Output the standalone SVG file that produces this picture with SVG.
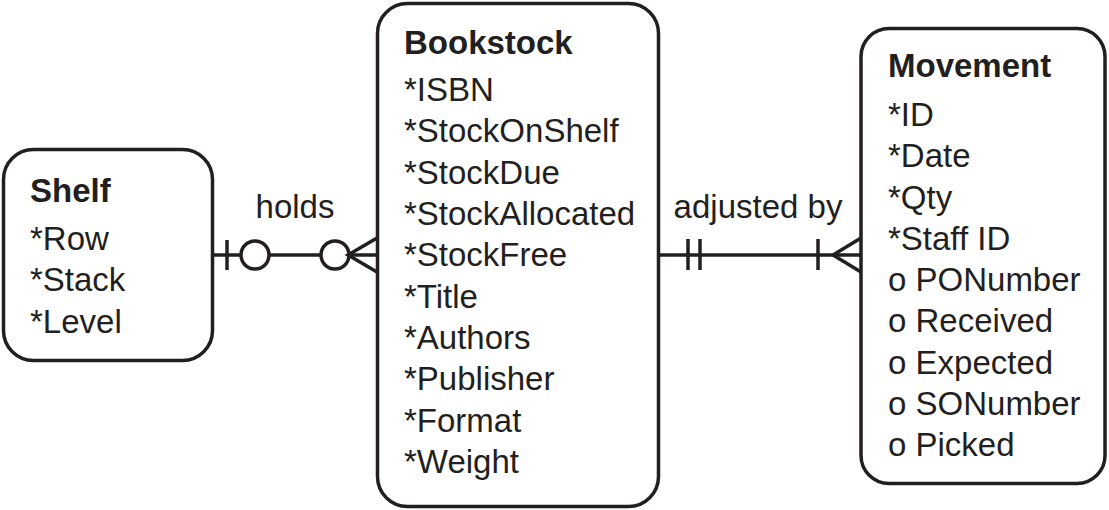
<svg xmlns="http://www.w3.org/2000/svg" width="1109" height="510" viewBox="0 0 1109 510">
<style>
.box{fill:#fff;stroke:#231f20;stroke-width:3.5}
.t{font-family:"Liberation Sans",Arial,sans-serif;font-size:33px;fill:#231f20}
.b{font-weight:bold}
.c{fill:none;stroke:#231f20;stroke-width:3.5}
.ci{fill:#fff;stroke:#231f20;stroke-width:3.5}
</style>
<rect width="1109" height="510" fill="#fff"/>
<g id="connectors">
<line class="c" x1="213" y1="255" x2="377" y2="255"/>
<line class="c" x1="227" y1="240" x2="227" y2="270"/>
<circle class="ci" cx="255" cy="255" r="14"/>
<circle class="ci" cx="335" cy="255" r="14"/>
<path class="c" d="M377 238 L348 255 L377 272"/>
<text class="t" x="295" y="218" text-anchor="middle">holds</text>
<line class="c" x1="659" y1="255" x2="861" y2="255"/>
<line class="c" x1="688" y1="239" x2="688" y2="270"/>
<line class="c" x1="700" y1="239" x2="700" y2="270"/>
<line class="c" x1="818" y1="239" x2="818" y2="270"/>
<path class="c" d="M861 238 L833 255 L861 272"/>
<text class="t" x="758" y="218" text-anchor="middle">adjusted by</text>
</g>
<g id="shelf">
<rect class="box" x="3.5" y="149.5" width="209" height="211" rx="30"/>
<text class="t b" x="30" y="202">Shelf</text>
<text class="t" x="30" y="250">*Row</text>
<text class="t" x="30" y="291">*Stack</text>
<text class="t" x="30" y="333">*Level</text>
</g>
<g id="bookstock">
<rect class="box" x="377.5" y="3.5" width="281" height="503" rx="30"/>
<text class="t b" x="404" y="54">Bookstock</text>
<text class="t" x="404" y="101">*ISBN</text>
<text class="t" x="404" y="142.3">*StockOnShelf</text>
<text class="t" x="404" y="183.7">*StockDue</text>
<text class="t" x="404" y="225">*StockAllocated</text>
<text class="t" x="404" y="266.3">*StockFree</text>
<text class="t" x="404" y="307.7">*Title</text>
<text class="t" x="404" y="349">*Authors</text>
<text class="t" x="404" y="390.3">*Publisher</text>
<text class="t" x="404" y="431.7">*Format</text>
<text class="t" x="404" y="473">*Weight</text>
</g>
<g id="movement">
<rect class="box" x="861" y="28.5" width="244" height="455" rx="28"/>
<text class="t b" x="888" y="77">Movement</text>
<text class="t" x="888" y="126">*ID</text>
<text class="t" x="888" y="167.25">*Date</text>
<text class="t" x="888" y="208.5">*Qty</text>
<text class="t" x="888" y="249.75">*Staff ID</text>
<text class="t" x="888" y="291">o PONumber</text>
<text class="t" x="888" y="332.25">o Received</text>
<text class="t" x="888" y="373.5">o Expected</text>
<text class="t" x="888" y="414.75">o SONumber</text>
<text class="t" x="888" y="456">o Picked</text>
</g>
</svg>
